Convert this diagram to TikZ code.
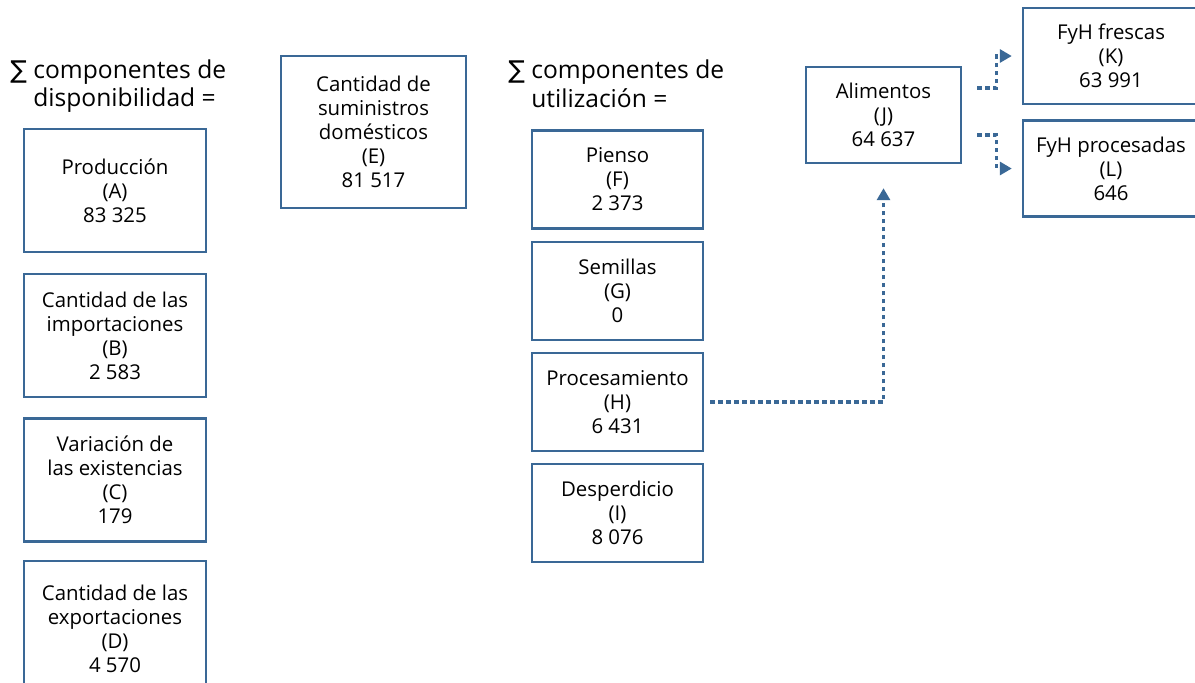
\documentclass[tikz,border=0pt]{standalone}
\usepackage{fontspec}
\setmainfont{Open Sans}
\newfontfamily\symfont{DejaVu Sans}
\usepackage{tikz}
\usetikzlibrary{arrows,arrows.meta,calc,positioning}
\usepackage{xcolor}
\definecolor{fblue}{HTML}{3A6896}
\tikzstyle{box}=[rectangle, draw=fblue, line width=1.2pt, align=center, inner sep=0pt, font=\fontsize{10.2}{12}\selectfont]
\tikzstyle{lbox}=[box, minimum width=91pt, minimum height=61.5pt]
\tikzstyle{ubox}=[box, minimum width=85.5pt, minimum height=49pt]
\tikzstyle{fbox}=[box, minimum width=88pt, minimum height=48pt]
\tikzstyle{head}=[anchor=west, align=left, inner sep=0pt, font=\fontsize{12.3}{14.2}\selectfont]
\tikzstyle{dotarrow}=[draw=fblue, line width=1.6pt, dash pattern=on 2.2pt off 1.8pt, -{Triangle[length=6pt,width=6.5pt]}]

\begin{document}
\begin{tikzpicture}[x=0.5pt, y=-0.5pt]
    \useasboundingbox (0,0) rectangle (1195,682);
    \clip (0,0) rectangle (1195,682);

    % sums
    \node[head] at (10,86) (hdisp) {{\symfont∑} componentes de\\\phantom{{\symfont∑} }disponibilidad =};
    \node[head] at (508,86) (hutil) {{\symfont∑} componentes de\\\phantom{{\symfont∑} }utilización =};

    % disponibilidad
    \node[lbox] at (115,190.5) (a) {Producción\\(A)\\83 325};
    \node[lbox] at (115,335.5) (b) {Cantidad de las\\importaciones\\(B)\\2 583};
    \node[lbox] at (115,480) (c) {Variación de\\las existencias\\(C)\\179};
    \node[lbox, minimum height=68pt] at (115,629) (d) {Cantidad de las\\exportaciones\\(D)\\4 570};

    \node[box, minimum width=92.5pt, minimum height=76pt] at (373.5,132) (e) {Cantidad de\\suministros\\domésticos\\(E)\\81 517};

    % utilizacion
    \node[ubox] at (617.5,179.5) (f) {Pienso\\(F)\\2 373};
    \node[ubox] at (617.5,291) (g) {Semillas\\(G)\\0};
    \node[ubox] at (617.5,402) (h) {Procesamiento\\(H)\\6 431};
    \node[ubox] at (617.5,513) (i) {Desperdicio\\(I)\\8 076};

    % alimentos
    \node[box, minimum width=77.5pt, minimum height=48pt] at (883.5,115) (j) {Alimentos\\(J)\\64 637};
    \node[fbox] at (1111,56) (k) {FyH frescas\\(K)\\63 991};
    \node[fbox] at (1111,168.5) (l) {FyH procesadas\\(L)\\646};

    \draw[dotarrow, shorten <=3pt, shorten >=12pt] (h.east) -| (j.south);
    \draw[dotarrow, shorten <=7.5pt, shorten >=5pt] ($(j.east)+(0,-27)$) -- ++(34,0) |- (k.west);
    \draw[dotarrow, shorten <=7.5pt, shorten >=5pt] ($(j.east)+(0,20)$) -- ++(34,0) |- (l.west);
\end{tikzpicture}
\end{document}
